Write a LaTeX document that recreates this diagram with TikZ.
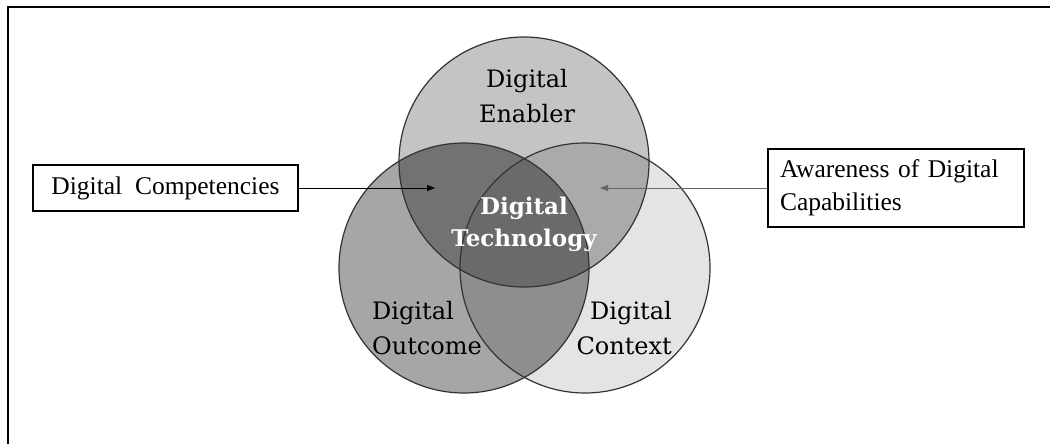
\documentclass[tikz,border=0pt]{standalone}
\usepackage{fontspec}
\setmainfont{Liberation Serif}
\newfontfamily\vennfont{DejaVu Serif}
\usetikzlibrary{arrows.meta}

% fills of the three sets and their overlaps
\definecolor{enabfill}{HTML}{C4C4C4}
\definecolor{outfill}{HTML}{A6A6A6}
\definecolor{ctxfill}{HTML}{E4E4E4}
\definecolor{enabout}{HTML}{727272}
\definecolor{enabctx}{HTML}{AAAAAA}
\definecolor{outctx}{HTML}{8E8E8E}
\definecolor{allfill}{HTML}{6A6A6A}
\definecolor{ringline}{HTML}{333333}

\begin{document}
\begin{tikzpicture}[
    x=1pt, y=-1pt,
    ring/.style={circle, draw=ringline, line width=1.2pt, minimum size=250pt, inner sep=0pt},
    lbl/.style={font=\vennfont\fontsize{24}{35}\selectfont, inner sep=0pt},
    box/.style={draw, line width=1.4pt, font=\fontsize{25.5}{33}\selectfont, inner sep=0pt},
    pointer/.style={-{Triangle[length=8pt,width=6pt]}, line width=1pt},
    frame/.style={line width=1.8pt, line cap=rect}
  ]
  \useasboundingbox (0,0) rectangle (1050,444);
  \draw[frame] (8,444) -- (8,7) -- (1050,7);

  \coordinate (cE) at (524,162);
  \coordinate (cO) at (464,268);
  \coordinate (cC) at (585,268);

  % single sets
  \fill[ctxfill] (cC) circle[radius=125pt];
  \fill[outfill] (cO) circle[radius=125pt];
  \fill[enabfill] (cE) circle[radius=125pt];

  % pairwise overlaps
  \begin{scope}
    \clip (cE) circle[radius=125pt];
    \fill[enabout] (cO) circle[radius=125pt];
    \fill[enabctx] (cC) circle[radius=125pt];
  \end{scope}
  \begin{scope}
    \clip (cO) circle[radius=125pt];
    \fill[outctx] (cC) circle[radius=125pt];
  \end{scope}
  \begin{scope}
    \clip (cE) circle[radius=125pt];
    \clip (cO) circle[radius=125pt];
    \fill[allfill] (cC) circle[radius=125pt];
  \end{scope}

  \node[ring] (enabler) at (cE) {};
  \node[ring] (outcome) at (cO) {};
  \node[ring] (context) at (cC) {};

  \node[lbl, align=center] (enabtxt) at (527,96) {Digital\\Enabler};
  \node[lbl, align=center, text=white, font=\vennfont\bfseries\fontsize{23}{32}\selectfont] (techtxt) at (524,224) {Digital\\Technology};
  \node[lbl, align=left, anchor=west] (outtxt) at (372,328) {Digital\\Outcome};
  \node[lbl, align=right, anchor=east] (ctxtxt) at (672,328) {Digital\\Context};

  \node[box, minimum width=265pt, minimum height=46pt] (comp) at (165.5,188) {Digital\hspace{.25em} Competencies};
  \node[box, text width=232pt, inner xsep=12pt, align=left, minimum height=78pt] (aware) at (896,188) {Awareness of Digital\\Capabilities};

  \coordinate (compend) at (435,188);
  \coordinate (awareend) at (600,188);
  \draw[pointer] (comp) -- (compend);
  \draw[pointer, draw=black!60, fill=black] (aware) -- (awareend);
\end{tikzpicture}
\end{document}
